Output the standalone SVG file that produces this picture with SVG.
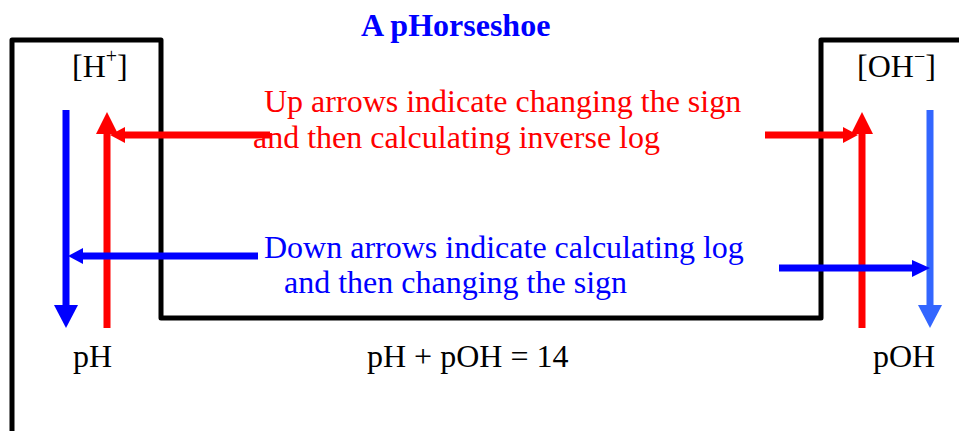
<svg xmlns="http://www.w3.org/2000/svg" width="959" height="431" viewBox="0 0 959 431">
<style>
text{font-family:"Liberation Serif","Times New Roman",serif;font-size:32px;fill:#000}
.title{font-weight:bold;fill:#0000FF;font-size:32px}
.red{fill:#FF0000}
.blue{fill:#0000FF}
.frame{fill:none;stroke:#000;stroke-width:5;stroke-linejoin:round}
.r{stroke:#FF0000;stroke-width:7;fill:none}
.b{stroke:#0000FF;stroke-width:7;fill:none}
.lb{stroke:#3366FF;stroke-width:7;fill:none}
</style>
<rect width="959" height="431" fill="#fff"/>
<g id="frame"><path class="frame" d="M12,431 V40 H161 V318 H821 V40 H961"/></g>
<g id="title"><text class="title" x="361" y="36">A pHorseshoe</text></g>
<g id="node-H"><text x="72" y="77">[H<tspan font-size="20" dy="-14">+</tspan><tspan dy="14">]</tspan></text></g>
<g id="node-OH"><text x="857" y="77">[OH<tspan font-size="20" dy="-14">−</tspan><tspan dy="14">]</tspan></text></g>
<g id="node-pH"><text x="73" y="367">pH</text></g>
<g id="node-pOH"><text x="873" y="367">pOH</text></g>
<g id="equation"><text x="367" y="367">pH + pOH = 14</text></g>
<g id="note-up"><text class="red" x="264" y="112">Up arrows indicate changing the sign</text><text class="red" x="253" y="148">and then calculating inverse log</text></g>
<g id="note-down"><text class="blue" x="264" y="258">Down arrows indicate calculating log</text><text class="blue" x="284" y="293">and then changing the sign</text></g>
<g id="connectors">
<line class="b" x1="66" y1="110" x2="66" y2="308"/>
<polygon fill="#0000FF" points="54,305 78,305 66,328"/>
<line class="r" x1="107" y1="328" x2="107" y2="130"/>
<polygon fill="#FF0000" points="96,134 118,134 107,112"/>
<line class="r" x1="270" y1="135" x2="122" y2="135"/>
<polygon fill="#FF0000" points="125,127 125,143 110,135"/>
<line class="r" x1="765" y1="135" x2="846" y2="135"/>
<polygon fill="#FF0000" points="843,127 843,143 858,135"/>
<line class="r" x1="862" y1="328" x2="862" y2="130"/>
<polygon fill="#FF0000" points="851,134 873,134 862,112"/>
<line class="lb" x1="930" y1="110" x2="930" y2="308"/>
<polygon fill="#3366FF" points="918,305 942,305 930,328"/>
<line class="b" x1="258" y1="256" x2="80" y2="256"/>
<polygon fill="#0000FF" points="83,248 83,264 68,256"/>
<line class="b" x1="779" y1="268" x2="915" y2="268"/>
<polygon fill="#0000FF" points="912,260 912,277 930,268"/>
</g>
</svg>
